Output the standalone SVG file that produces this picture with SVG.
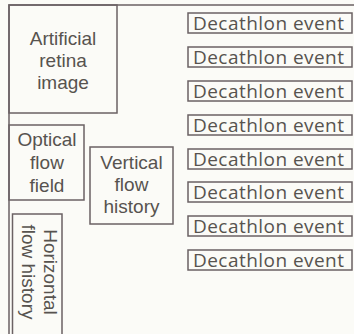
<svg xmlns="http://www.w3.org/2000/svg" width="354" height="334" viewBox="0 0 354 334">
<style>
.b{fill:none;stroke:#6b6264;stroke-width:1.5}
.t{font-family:"Liberation Sans",Arial,sans-serif;font-size:19px;fill:#57534f;text-anchor:middle}
.d{font-family:"Open Sans","Liberation Sans",sans-serif;font-size:19px;fill:#57534f}
</style>
<rect width="354" height="334" fill="#fbfbf7"/>
<g id="frame"><path class="b" d="M9,335 V5 H355"/></g>
<g id="retina"><rect class="b" x="9" y="5" width="108" height="108"/>
<text class="t" x="63" y="45">Artificial</text><text class="t" x="63" y="67">retina</text><text class="t" x="63" y="89">image</text></g>
<g id="optical"><rect class="b" x="9" y="125" width="75" height="75"/>
<text class="t" x="47" y="146">Optical</text><text class="t" x="47" y="169">flow</text><text class="t" x="47" y="192">field</text></g>
<g id="vertical"><rect class="b" x="90" y="147" width="83" height="77"/>
<text class="t" x="131.5" y="169">Vertical</text><text class="t" x="131.5" y="191">flow</text><text class="t" x="131.5" y="213">history</text></g>
<g id="horizontal"><path class="b" d="M12.5,336 V214 H62 V336"/>
<g transform="rotate(90)"><text class="t" x="272" y="-44">Horizontal</text><text class="t" x="272" y="-22">flow history</text></g></g>
<g id="events">
<g id="e1"><rect class="b" x="188" y="13" width="164" height="20"/><text class="d" x="193" y="30" textLength="151">Decathlon event</text></g>
<g id="e2"><rect class="b" x="188" y="47" width="164" height="20"/><text class="d" x="193" y="64" textLength="151">Decathlon event</text></g>
<g id="e3"><rect class="b" x="188" y="81" width="164" height="20"/><text class="d" x="193" y="98" textLength="151">Decathlon event</text></g>
<g id="e4"><rect class="b" x="188" y="115" width="164" height="20"/><text class="d" x="193" y="132" textLength="151">Decathlon event</text></g>
<g id="e5"><rect class="b" x="188" y="149" width="164" height="20"/><text class="d" x="193" y="166" textLength="151">Decathlon event</text></g>
<g id="e6"><rect class="b" x="188" y="182" width="164" height="20"/><text class="d" x="193" y="199" textLength="151">Decathlon event</text></g>
<g id="e7"><rect class="b" x="188" y="216" width="164" height="20"/><text class="d" x="193" y="233" textLength="151">Decathlon event</text></g>
<g id="e8"><rect class="b" x="188" y="250" width="164" height="20"/><text class="d" x="193" y="267" textLength="151">Decathlon event</text></g>
</g>
<g id="connectors"/>
</svg>
